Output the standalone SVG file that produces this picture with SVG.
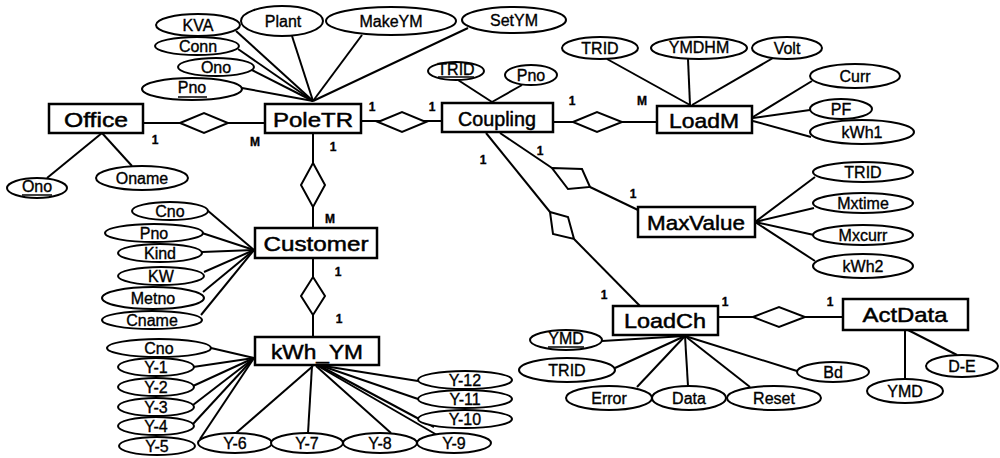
<svg xmlns="http://www.w3.org/2000/svg" width="1000" height="458" viewBox="0 0 1000 458">
<style>
text{font-family:"Liberation Sans",Arial,sans-serif;fill:#000;stroke:#000;stroke-width:0.35;text-anchor:middle;dominant-baseline:central}
.e rect{fill:#fff;stroke:#000;stroke-width:2.5}
.e text{font-size:21px;stroke-width:0.5}
.at ellipse{fill:#fff;stroke:#000;stroke-width:2}
.at text{font-size:16px}
.ul{stroke:#000;stroke-width:1.5}
.r polygon{fill:#fff;stroke:#000;stroke-width:2}
#conn line{stroke:#000;stroke-width:2}
.c{font-size:12px;font-weight:bold}
</style>
<rect width="1000" height="458" fill="#fff"/>
<g id="conn">
<line x1="143" y1="123" x2="265" y2="123"/>
<line x1="361" y1="121" x2="442" y2="121"/>
<line x1="553" y1="122" x2="657" y2="122"/>
<line x1="313" y1="133" x2="313" y2="228"/>
<line x1="313" y1="258" x2="313" y2="337"/>
<line x1="500" y1="133" x2="552" y2="168"/>
<line x1="590" y1="187" x2="638" y2="210"/>
<line x1="486" y1="133" x2="550" y2="212"/>
<line x1="574" y1="239" x2="640" y2="306"/>
<line x1="718" y1="317" x2="843" y2="317"/>
<line x1="236" y1="31" x2="313" y2="101"/>
<line x1="292" y1="36" x2="313" y2="101"/>
<line x1="362" y1="35" x2="313" y2="101"/>
<line x1="468" y1="28" x2="313" y2="101"/>
<line x1="238" y1="49" x2="313" y2="101"/>
<line x1="252" y1="70" x2="313" y2="101"/>
<line x1="242" y1="88" x2="313" y2="101"/>
<line x1="102" y1="133" x2="47" y2="178"/>
<line x1="102" y1="133" x2="132" y2="166"/>
<line x1="458" y1="80" x2="492" y2="102"/>
<line x1="522" y1="85" x2="492" y2="102"/>
<line x1="607" y1="59" x2="690" y2="105"/>
<line x1="688" y1="59" x2="690" y2="105"/>
<line x1="773" y1="58" x2="692" y2="105"/>
<line x1="812" y1="81" x2="753" y2="117"/>
<line x1="810" y1="110" x2="753" y2="118"/>
<line x1="811" y1="137" x2="753" y2="121"/>
<line x1="755" y1="222" x2="815" y2="177"/>
<line x1="755" y1="222" x2="814" y2="208"/>
<line x1="755" y1="222" x2="814" y2="235"/>
<line x1="755" y1="222" x2="815" y2="261"/>
<line x1="207" y1="210" x2="254" y2="250"/>
<line x1="202" y1="233" x2="254" y2="250"/>
<line x1="202" y1="252" x2="254" y2="250"/>
<line x1="204" y1="272" x2="254" y2="250"/>
<line x1="203" y1="292" x2="254" y2="250"/>
<line x1="201" y1="315" x2="254" y2="250"/>
<line x1="211" y1="348" x2="254" y2="358"/>
<line x1="193" y1="367" x2="254" y2="358"/>
<line x1="193" y1="386" x2="254" y2="358"/>
<line x1="193" y1="405" x2="254" y2="358"/>
<line x1="193" y1="424" x2="254" y2="358"/>
<line x1="200" y1="439" x2="254" y2="358"/>
<line x1="236" y1="433" x2="313" y2="366"/>
<line x1="308" y1="433" x2="312" y2="366"/>
<line x1="391" y1="433" x2="316" y2="366"/>
<line x1="437" y1="435" x2="318" y2="366"/>
<line x1="434" y1="427" x2="320" y2="366"/>
<line x1="418" y1="399" x2="322" y2="366"/>
<line x1="418" y1="381" x2="324" y2="366"/>
<line x1="602" y1="341" x2="685" y2="336"/>
<line x1="615" y1="368" x2="685" y2="336"/>
<line x1="637" y1="387" x2="685" y2="336"/>
<line x1="688" y1="386" x2="685" y2="336"/>
<line x1="750" y1="387" x2="685" y2="336"/>
<line x1="797" y1="371" x2="685" y2="336"/>
<line x1="905" y1="330" x2="905" y2="379"/>
<line x1="908" y1="330" x2="957" y2="355"/>
</g>
<g id="relationships" class="r">
<polygon id="rel-office-poletr" points="180,123 204,113 228,123 204,133"/>
<polygon id="rel-poletr-coupling" points="378,122 402,112 426,122 402,132"/>
<polygon id="rel-coupling-loadm" points="573,122 597,112 622,122 597,132"/>
<polygon id="rel-poletr-customer" points="313,163 325,185 313,207 301,185"/>
<polygon id="rel-customer-kwh" points="313,277 325,296 313,315 301,296"/>
<polygon id="rel-coupling-maxvalue" points="552,168 582,169 590,187 568,189"/>
<polygon id="rel-coupling-loadch" points="550,212 568,217 574,239 553,234"/>
<polygon id="rel-loadch-actdata" points="753,317 779,307 805,317 779,327"/>
</g>
<g id="cardinalities">
<text class="c" x="155" y="140">1</text><text class="c" x="255" y="142">M</text>
<text class="c" x="372" y="107">1</text><text class="c" x="432" y="107">1</text>
<text class="c" x="572" y="101">1</text><text class="c" x="642" y="101">M</text>
<text class="c" x="333" y="147">1</text><text class="c" x="330" y="219">M</text>
<text class="c" x="338" y="272">1</text><text class="c" x="339" y="319">1</text>
<text class="c" x="540" y="151">1</text><text class="c" x="633" y="194">1</text>
<text class="c" x="483" y="160">1</text><text class="c" x="604" y="295">1</text>
<text class="c" x="725" y="302">1</text><text class="c" x="830" y="302">1</text>
</g>
<g id="Office" class="e"><rect x="49" y="104" width="94" height="29"/><text x="96" y="119" textLength="64" lengthAdjust="spacingAndGlyphs">Office</text></g>
<g id="PoleTR" class="e"><rect x="265" y="104" width="96" height="29"/><text x="313" y="119" textLength="80" lengthAdjust="spacingAndGlyphs">PoleTR</text></g>
<g id="Coupling" class="e"><rect x="442" y="103" width="111" height="29"/><text x="497" y="118" textLength="78" lengthAdjust="spacingAndGlyphs">Coupling</text></g>
<g id="LoadM" class="e"><rect x="657" y="106" width="95" height="27"/><text x="704" y="120" textLength="70" lengthAdjust="spacingAndGlyphs">LoadM</text></g>
<g id="MaxValue" class="e"><rect x="638" y="207" width="117" height="30"/><text x="696" y="222" textLength="98" lengthAdjust="spacingAndGlyphs">MaxValue</text></g>
<g id="Customer" class="e"><rect x="255" y="228" width="122" height="30"/><text x="316" y="243" textLength="105" lengthAdjust="spacingAndGlyphs">Customer</text></g>
<g id="kWh_YM" class="e"><rect x="255" y="337" width="124" height="28"/><text x="317" y="351" textLength="92" lengthAdjust="spacingAndGlyphs">kWh_YM</text></g>
<g id="LoadCh" class="e"><rect x="613" y="306" width="105" height="29"/><text x="665" y="320" textLength="82" lengthAdjust="spacingAndGlyphs">LoadCh</text></g>
<g id="ActData" class="e"><rect x="843" y="299" width="125" height="31"/><text x="905" y="314" textLength="85" lengthAdjust="spacingAndGlyphs">ActData</text></g>
<g id="attributes" class="at">
<g id="poletr-kva"><ellipse cx="198" cy="25" rx="42" ry="11"/><text x="198" y="25">KVA</text></g>
<g id="poletr-plant"><ellipse cx="282" cy="21" rx="41" ry="15"/><text x="283" y="21">Plant</text></g>
<g id="poletr-makeym"><ellipse cx="391" cy="21" rx="65" ry="14"/><text x="391" y="21">MakeYM</text></g>
<g id="poletr-setym"><ellipse cx="514" cy="20" rx="52" ry="13"/><text x="514" y="20">SetYM</text></g>
<g id="poletr-conn"><ellipse cx="197" cy="46" rx="42" ry="9"/><text x="198" y="46">Conn</text></g>
<g id="poletr-ono"><ellipse cx="216" cy="67" rx="38" ry="9"/><text x="216" y="67">Ono</text></g>
<g id="poletr-pno"><ellipse cx="192" cy="89" rx="50" ry="11"/><text x="192" y="87">Pno</text><line class="ul" x1="178" y1="97" x2="207" y2="97"/></g>
<g id="office-ono"><ellipse cx="37" cy="188" rx="30" ry="10"/><text x="37" y="186">Ono</text><line class="ul" x1="22" y1="195" x2="52" y2="195"/></g>
<g id="office-oname"><ellipse cx="142" cy="178" rx="46" ry="12"/><text x="142" y="178">Oname</text></g>
<g id="coupling-trid"><ellipse cx="456" cy="71" rx="28" ry="9"/><text x="456" y="69">TRID</text><line class="ul" x1="438" y1="77" x2="474" y2="77"/></g>
<g id="coupling-pno"><ellipse cx="531" cy="75" rx="26" ry="10"/><text x="531" y="75">Pno</text></g>
<g id="loadm-trid"><ellipse cx="600" cy="48" rx="38" ry="11"/><text x="600" y="48">TRID</text></g>
<g id="loadm-ymdhm"><ellipse cx="699" cy="48" rx="48" ry="11"/><text x="699" y="47">YMDHM</text></g>
<g id="loadm-volt"><ellipse cx="787" cy="48" rx="35" ry="11"/><text x="787" y="48">Volt</text></g>
<g id="loadm-curr"><ellipse cx="855" cy="76" rx="45" ry="12"/><text x="855" y="76">Curr</text></g>
<g id="loadm-pf"><ellipse cx="841" cy="109" rx="31" ry="10"/><text x="841" y="109">PF</text></g>
<g id="loadm-kwh1"><ellipse cx="862" cy="132" rx="52" ry="12"/><text x="862" y="132">kWh1</text></g>
<g id="maxvalue-trid"><ellipse cx="863" cy="172" rx="50" ry="10"/><text x="863" y="172">TRID</text></g>
<g id="maxvalue-mxtime"><ellipse cx="863" cy="203" rx="50" ry="10"/><text x="863" y="203">Mxtime</text></g>
<g id="maxvalue-mxcurr"><ellipse cx="863" cy="235" rx="50" ry="10"/><text x="863" y="235">Mxcurr</text></g>
<g id="maxvalue-kwh2"><ellipse cx="863" cy="266" rx="50" ry="12"/><text x="863" y="266">kWh2</text></g>
<g id="customer-cno"><ellipse cx="170" cy="211" rx="38" ry="9"/><text x="170" y="211">Cno</text></g>
<g id="customer-pno"><ellipse cx="154" cy="233" rx="49" ry="9"/><text x="154" y="233">Pno</text></g>
<g id="customer-kind"><ellipse cx="160" cy="253" rx="42" ry="9"/><text x="160" y="253">Kind</text></g>
<g id="customer-kw"><ellipse cx="161" cy="276" rx="43" ry="9"/><text x="161" y="276">KW</text></g>
<g id="customer-metno"><ellipse cx="153" cy="298" rx="51" ry="11"/><text x="153" y="298">Metno</text></g>
<g id="customer-cname"><ellipse cx="152" cy="320" rx="50" ry="9"/><text x="152" y="320">Cname</text></g>
<g id="kwh-cno"><ellipse cx="159" cy="348" rx="52" ry="9"/><text x="159" y="348">Cno</text></g>
<g id="kwh-y1"><ellipse cx="156" cy="367" rx="38" ry="9"/><text x="156" y="367">Y-1</text></g>
<g id="kwh-y2"><ellipse cx="156" cy="387" rx="38" ry="9"/><text x="156" y="387">Y-2</text></g>
<g id="kwh-y3"><ellipse cx="156" cy="407" rx="38" ry="9"/><text x="156" y="407">Y-3</text></g>
<g id="kwh-y4"><ellipse cx="156" cy="426" rx="38" ry="9"/><text x="156" y="426">Y-4</text></g>
<g id="kwh-y5"><ellipse cx="157" cy="446" rx="38" ry="9"/><text x="157" y="446">Y-5</text></g>
<g id="kwh-y6"><ellipse cx="235" cy="443" rx="37" ry="10"/><text x="235" y="443">Y-6</text></g>
<g id="kwh-y7"><ellipse cx="307" cy="443" rx="36" ry="10"/><text x="307" y="443">Y-7</text></g>
<g id="kwh-y8"><ellipse cx="380" cy="443" rx="37" ry="10"/><text x="380" y="443">Y-8</text></g>
<g id="kwh-y9"><ellipse cx="454" cy="443" rx="37" ry="10"/><text x="454" y="443">Y-9</text></g>
<g id="kwh-y10"><ellipse cx="465" cy="419" rx="47" ry="9"/><text x="465" y="419">Y-10</text></g>
<g id="kwh-y11"><ellipse cx="465" cy="399" rx="47" ry="9"/><text x="465" y="399">Y-11</text></g>
<g id="kwh-y12"><ellipse cx="465" cy="380" rx="47" ry="9"/><text x="465" y="380">Y-12</text></g>
<g id="loadch-ymd"><ellipse cx="566" cy="340" rx="36" ry="10"/><text x="566" y="338">YMD</text><line class="ul" x1="548" y1="347" x2="584" y2="347"/></g>
<g id="loadch-trid"><ellipse cx="567" cy="370" rx="48" ry="12"/><text x="567" y="370">TRID</text></g>
<g id="loadch-error"><ellipse cx="609" cy="398" rx="43" ry="12"/><text x="609" y="398">Error</text></g>
<g id="loadch-data"><ellipse cx="689" cy="398" rx="37" ry="12"/><text x="689" y="398">Data</text></g>
<g id="loadch-reset"><ellipse cx="774" cy="398" rx="47" ry="12"/><text x="774" y="398">Reset</text></g>
<g id="loadch-bd"><ellipse cx="833" cy="372" rx="36" ry="10"/><text x="833" y="372">Bd</text></g>
<g id="actdata-ymd"><ellipse cx="905" cy="391" rx="38" ry="12"/><text x="905" y="391">YMD</text></g>
<g id="actdata-de"><ellipse cx="962" cy="366" rx="36" ry="11"/><text x="962" y="366">D-E</text></g>
</g>
</svg>
